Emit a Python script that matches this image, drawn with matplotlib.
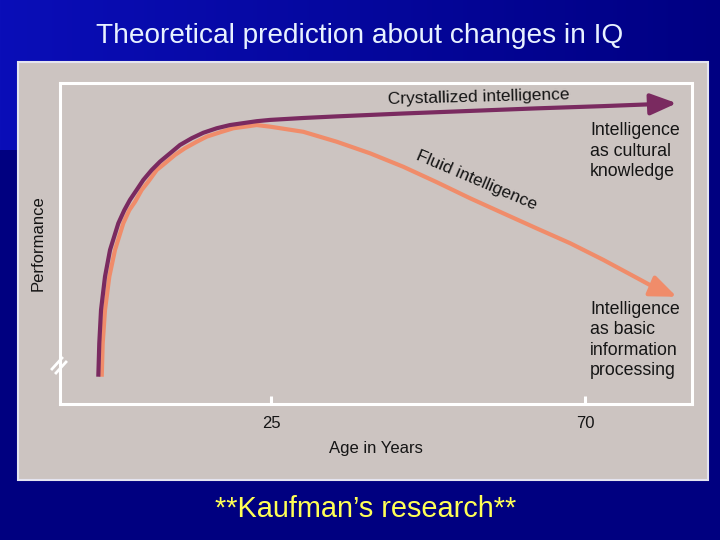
import numpy as np
import matplotlib
matplotlib.use("Agg")
import matplotlib.pyplot as plt
from matplotlib.patches import Rectangle

# values (age in years, performance 0-100)
cryst_age = [0.25, 0.39, 0.64, 1.21, 1.93, 3.12, 3.98, 4.79, 5.75, 6.70, 7.90,
             9.09, 10.53, 11.96, 13.64, 15.30, 17.22, 19.12, 22.95, 24.86,
             29.6, 34.42, 43.96, 53.52, 63.08, 72.62, 79.79, 83.14]
cryst_perf = [8.5, 18.9, 29.3, 39.7, 48.0, 56.3, 60.4, 63.6, 66.7, 69.8, 72.9,
              75.5, 78.1, 80.7, 82.8, 84.5, 85.9, 86.9, 88.1, 88.5,
              89.1, 89.6, 90.5, 91.3, 92.1, 92.8, 93.4, 93.7]
fluid_age = [0.74, 0.88, 1.21, 1.83, 2.64, 3.83, 4.69, 5.51, 6.47, 7.42, 8.62,
             9.81, 11.24, 12.68, 14.35, 15.79, 17.93, 19.60, 22.95, 24.86,
             29.63, 34.42, 39.19, 43.96, 48.75, 53.52, 58.29, 63.08, 67.85,
             72.62, 77.41, 79.79, 83.14]
fluid_perf = [8.5, 18.9, 29.3, 39.7, 48.0, 56.3, 60.4, 63.0, 66.7, 69.3, 72.9,
              75.0, 77.6, 79.7, 81.7, 83.3, 84.8, 85.9, 86.9, 86.4,
              84.8, 81.7, 78.1, 73.9, 69.1, 64.1, 59.4, 54.7, 50.1,
              44.9, 39.3, 36.5, 33.4]
tick_ages = [25, 70]
tick_labels = ["25", "70"]

title = "Theoretical prediction about changes in IQ"
footer = "**Kaufman\u2019s research**"

PURPLE = "#7a2a60"
ORANGE = "#f08c6a"
PANEL = "#ccc4c1"
INK = "#151515"
FONT = "Liberation Sans"

fig = plt.figure(figsize=(7.2, 5.4), dpi=100)

# slide background
bg = fig.add_axes([0, 0, 1, 1])
bg.set_xlim(0, 720)
bg.set_ylim(540, 0)
bg.axis("off")
base = np.zeros((540, 720, 3))
base[:] = np.array([0, 0, 128]) / 255
band = np.linspace(0, 1, 720)[None, :, None]
left_c = np.array([10, 14, 184]) / 255
right_c = np.array([0, 0, 130]) / 255
base[:150] = left_c * (1 - band) + right_c * band
bg.imshow(base, extent=(0, 720, 540, 0), aspect="auto")
bg.add_patch(Rectangle((18, 62), 690, 418, facecolor=PANEL,
                       edgecolor="#e4e4f0", lw=1.5))

fig.text(0.5, 1 - 36 / 540, title, ha="center", va="center",
         color="#e8f2ff", fontsize=20.2, family=FONT)
fig.text(0.508, 1 - 509 / 540, footer, ha="center", va="center",
         color="#ffff55", fontsize=20.8, family=FONT)

ax = fig.add_axes([60 / 720, 1 - 404 / 540, 632 / 720, 321 / 540])
ax.set_facecolor(PANEL)
ax.set_xlim(-5.24, 85.33)
ax.set_ylim(0, 100)
for s in ax.spines.values():
    s.set_color("white")
    s.set_linewidth(2.2)

ax.plot(fluid_age[:-1], fluid_perf[:-1], color=ORANGE, lw=3,
        solid_capstyle="butt", solid_joinstyle="round")
ax.plot(cryst_age[:-1], cryst_perf[:-1], color=PURPLE, lw=3,
        solid_capstyle="butt", solid_joinstyle="round")
for a, p, c in [(fluid_age, fluid_perf, ORANGE), (cryst_age, cryst_perf, PURPLE)]:
    ax.annotate("", xy=(a[-1], p[-1]), xytext=(a[-2], p[-2]),
                arrowprops=dict(arrowstyle="-|>,head_length=1.6,head_width=0.65",
                                color=c, lw=3, shrinkA=0, shrinkB=0))

ax.set_xticks(tick_ages)
ax.set_xticklabels(tick_labels, family=FONT, fontsize=12, color=INK)
ax.set_yticks([])
ax.tick_params(axis="x", direction="in", length=6, width=2.2, color="white", pad=9)
ax.set_xlabel("Age in Years", family=FONT, fontsize=12, color=INK, labelpad=7)
ax.set_ylabel("Performance", family=FONT, fontsize=12, color=INK, labelpad=10)

ax.text(54.8, 95.6, "Crystallized intelligence", ha="center", va="center",
        rotation=1.5, family=FONT, fontsize=12.5, color=INK)
ax.text(54.4, 69.8, "Fluid intelligence", ha="center", va="center",
        rotation=-23, family=FONT, fontsize=12.5, color=INK)
ax.text(70.7, 78.8, "Intelligence\nas cultural\nknowledge", ha="left", va="center",
        family=FONT, fontsize=12.8, color=INK, linespacing=1.3)
ax.text(70.7, 19.9, "Intelligence\nas basic\ninformation\nprocessing", ha="left",
        va="center", family=FONT, fontsize=12.8, color=INK, linespacing=1.25)

# axis break on the left spine
def px(x, y):
    return ((x - 60) / 632, (404 - y) / 321)

gx0, gy0 = px(60, 361)
gx1, gy1 = px(60, 371)
ax.plot([gx0, gx1], [gy0, gy1], color=PANEL, lw=3, transform=ax.transAxes,
        clip_on=False, solid_capstyle="butt")
for dx, dy in [(0, 0), (4, 4)]:
    (x0, y0), (x1, y1) = px(52 + dx, 369 + dy), px(62 + dx, 358 + dy)
    ax.plot([x0, x1], [y0, y1], color="white", lw=2, transform=ax.transAxes,
            clip_on=False)

fig.savefig("out.png", dpi=100)
